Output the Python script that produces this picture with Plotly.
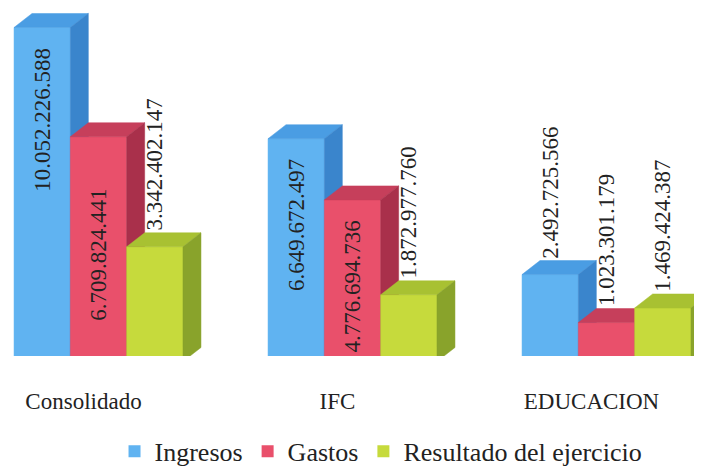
import plotly.graph_objects as go

categories = ["Consolidado", "IFC", "EDUCACION"]
series_names = ["Ingresos", "Gastos", "Resultado del ejercicio"]
ingresos = [10052226588, 6649672497, 2492725566]
gastos = [6709824441, 4776694736, 1023301179]
resultado = [3342402147, 1872977760, 1469424387]
series_values = [ingresos, gastos, resultado]

# styles
front_colors = ["#60b3f1", "#e9506b", "#c6da3c"]
top_colors = ["#4a9de3", "#c63f5b", "#a8c132"]
side_colors = ["#3a85cc", "#a9304b", "#89a32b"]
inside_mode = ["end", "middle", "middle"]
SERIF = "Liberation Serif, Times New Roman, serif"

# the page body adds an 8px margin, so the figure is 8px smaller each way
W, H = 694, 458
M_T, M_B, M_L, M_R = 0, 110, 0, 0
plot_h = H - M_T - M_B
px_per_unit_x = 254.0
first_center_px = 90.5
x_range = [-first_center_px / px_per_unit_x, (W - first_center_px) / px_per_unit_x]
px_per_value = 32.68e-9
y_max = plot_h / px_per_value
bar_w = 0.2217
dx = 18 / px_per_unit_x
dy = 14 / px_per_value
floor = -5.5 / px_per_value
label_font = 23

fig = go.Figure()

for j, vals in enumerate(series_values):
    for i, v in enumerate(vals):
        x0 = i + (-1.5 + j) * bar_w
        x1 = x0 + bar_w
        polys = [
            ([x0, x1, x1, x0, x0], [floor, floor, v, v, floor], front_colors[j]),
            ([x0, x0 + dx, x1 + dx, x1, x0], [v, v + dy, v + dy, v, v], top_colors[j]),
            ([x1, x1 + dx, x1 + dx, x1, x1], [floor, floor + dy, v + dy, v, floor], side_colors[j]),
        ]
        for xs, ys, c in polys:
            fig.add_trace(go.Scatter(x=xs, y=ys, mode="lines", fill="toself",
                                     fillcolor=c, line=dict(color=c, width=0.5),
                                     showlegend=False, hoverinfo="skip", cliponaxis=False))

for j, name in enumerate(series_names):
    fig.add_trace(go.Scatter(x=[None], y=[None], mode="markers", name=name,
                             marker=dict(symbol="square", size=12, color=front_colors[j])))

# value labels
for j, vals in enumerate(series_values):
    for i, v in enumerate(vals):
        txt = f"{v:,}".replace(",", ".")
        digits = sum(ch.isdigit() for ch in txt)
        dots = len(txt) - digits
        len_px = label_font * (0.5 * digits + 0.25 * dots)
        bar_px = v * px_per_value
        xc = i + (-1.5 + j) * bar_w + bar_w / 2
        if bar_px > len_px + 20:
            if inside_mode[j] == "end":
                y, ya, ys = v, "top", -18
            else:
                y, ya, ys = v / 2, "middle", -9
        else:
            y, ya, ys = v + dy, "bottom", 0
        fig.add_annotation(x=xc, y=y, text=txt, textangle=-90, showarrow=False,
                           xanchor="center", yanchor=ya, yshift=ys,
                           font=dict(family=SERIF, size=label_font, color="#222"))

fig.update_layout(
    width=W, height=H,
    margin=dict(l=M_L, r=M_R, t=M_T, b=M_B, autoexpand=False),
    paper_bgcolor="white", plot_bgcolor="white",
    xaxis=dict(range=x_range, tickvals=list(range(len(categories))), ticktext=categories,
               showgrid=False, zeroline=False, showline=False, ticks="", automargin=False,
               ticklabelshift=-15, ticklabelstandoff=29,
               tickfont=dict(family=SERIF, size=23, color="#222")),
    yaxis=dict(range=[0, y_max], visible=False, showgrid=False, automargin=False),
    legend=dict(orientation="h", x=0.5375, xanchor="center", y=-0.274, yanchor="middle",
                font=dict(family=SERIF, size=26, color="#222"),
                itemwidth=30, tracegroupgap=0),
    showlegend=True,
)

fig.write_html("out.html")
